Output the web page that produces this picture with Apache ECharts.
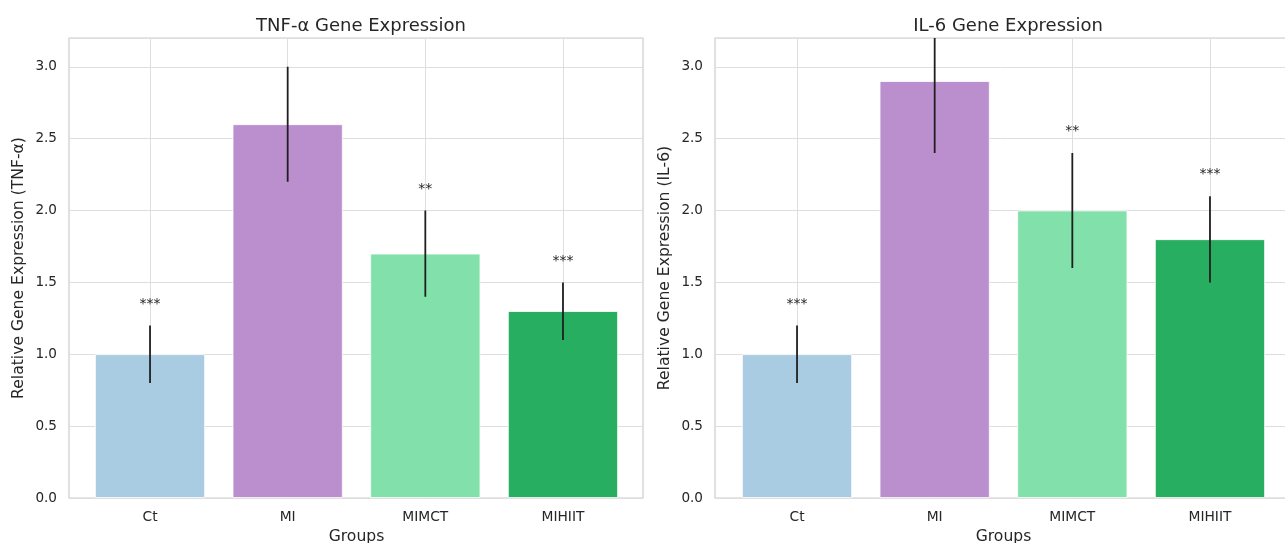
<!DOCTYPE html>
<html>
<head>
<meta charset="utf-8">
<script src="https://cdn.jsdelivr.net/npm/echarts@6/dist/echarts.min.js"></script>
<style>
  html, body { margin: 0; padding: 0; background: #ffffff; }
  #chart { width: 1285px; height: 543px; }
</style>
</head>
<body>
<div id="chart"></div>
<script>
// ---- data ----
const categories = ['Ct', 'MI', 'MIMCT', 'MIHIIT'];
const tnfMean = [1.0, 2.6, 1.7, 1.3];
const tnfErr  = [0.2, 0.4, 0.3, 0.2];
const tnfSig  = ['***', '', '**', '***'];
const il6Mean = [1.0, 2.9, 2.0, 1.8];
const il6Err  = [0.2, 0.5, 0.4, 0.3];
const il6Sig  = ['***', '', '**', '***'];
const barColors = ['#a9cce3', '#bb8fce', '#82e0aa', '#27ae60'];
const titles = ['TNF-α Gene Expression', 'IL-6 Gene Expression'];
const yNames = ['Relative Gene Expression (TNF-α)', 'Relative Gene Expression (IL-6)'];
const xName = 'Groups';

// ---- style / layout ----
const FONT = 'DejaVu Sans';
const TXT = '#262626';
const GRIDC = '#dedede';
const SIG_OFFSET = 0.1;
const Y_MIN = 0, Y_MAX = 3.2, Y_INT = 0.5;
const panels = [
  { outerLeft: 69,  outerWidth: 574, innerLeft: 81.2,  innerWidth: 550.6, titleX: 356 },
  { outerLeft: 715, outerWidth: 576, innerLeft: 728.2, innerWidth: 550.6, titleX: 1003 }
];
const TOP = 38, HEIGHT = 460;

const chart = echarts.init(document.getElementById('chart'), null, { renderer: 'canvas' });

const grid = [], xAxis = [], yAxis = [], series = [], title = [];
const datasets = [
  { mean: tnfMean, err: tnfErr, sig: tnfSig },
  { mean: il6Mean, err: il6Err, sig: il6Sig }
];

datasets.forEach((d, p) => {
  const pn = panels[p];
  const outerIdx = grid.length;
  grid.push({ left: pn.outerLeft, top: TOP, width: pn.outerWidth, height: HEIGHT,
              containLabel: false, outerBoundsMode: 'none',
              show: true, borderColor: '#cccccc', borderWidth: 1.2, backgroundColor: 'transparent' });
  const innerIdx = grid.length;
  grid.push({ left: pn.innerLeft, top: TOP, width: pn.innerWidth, height: HEIGHT,
              containLabel: false, outerBoundsMode: 'none', show: false });

  title.push({ text: titles[p], left: pn.titleX, top: 12, textAlign: 'center',
               textStyle: { fontFamily: FONT, fontSize: 18, fontWeight: 'normal', color: TXT } });

  // outer axes (frame, y ticks, horizontal grid)
  xAxis.push({ type: 'value', gridIndex: outerIdx, min: 0, max: 1, show: false });
  yAxis.push({
    type: 'value', gridIndex: outerIdx, min: Y_MIN, max: Y_MAX, interval: Y_INT,
    axisLine: { show: false }, axisTick: { show: false },
    axisLabel: { formatter: v => v.toFixed(1), showMaxLabel: false, color: TXT,
                 fontFamily: FONT, fontSize: 13.6, margin: 12 },
    splitLine: { show: true, lineStyle: { color: GRIDC, width: 1 } },
    name: yNames[p], nameLocation: 'middle', nameGap: 42,
    nameTextStyle: { fontFamily: FONT, fontSize: 15.6, color: TXT }
  });

  // inner axes (bars)
  const ixi = xAxis.length;
  xAxis.push({
    type: 'category', gridIndex: innerIdx, data: categories,
    axisLine: { show: false }, axisTick: { show: false }, splitLine: { show: false },
    axisLabel: { color: TXT, fontFamily: FONT, fontSize: 13.8, margin: 12 },
    name: xName, nameLocation: 'middle', nameGap: 30,
    nameTextStyle: { fontFamily: FONT, fontSize: 15.6, color: TXT }
  });
  const iyi = yAxis.length;
  yAxis.push({ type: 'value', gridIndex: innerIdx, min: Y_MIN, max: Y_MAX, show: false });

  series.push({
    type: 'bar', xAxisIndex: ixi, yAxisIndex: iyi, z: 2,
    barWidth: '80%',
    data: d.mean.map((m, i) => ({ value: m, itemStyle: { color: barColors[i] } })),
    itemStyle: { borderColor: '#ffffff', borderWidth: 0.8 },
    markLine: {
      z: 1, silent: true, symbol: ['none', 'none'], label: { show: false },
      lineStyle: { color: GRIDC, width: 1, type: 'solid' },
      emphasis: { disabled: true },
      data: categories.map(c => ({ xAxis: c }))
    }
  });

  series.push({
    type: 'custom', xAxisIndex: ixi, yAxisIndex: iyi, z: 3, clip: true,
    data: d.mean.map((m, i) => [i, m - d.err[i], m + d.err[i]]),
    renderItem: (params, api) => {
      const x = api.value(0);
      const lo = api.coord([x, api.value(1)]);
      const hi = api.coord([x, api.value(2)]);
      const top = Math.max(hi[1], params.coordSys.y);
      return { type: 'line', shape: { x1: lo[0], y1: lo[1], x2: hi[0], y2: top },
               style: { stroke: '#1f1f1f', lineWidth: 1.8 } };
    }
  });

  series.push({
    type: 'custom', xAxisIndex: ixi, yAxisIndex: iyi, z: 4,
    data: d.mean.map((m, i) => [i, m + d.err[i]]),
    renderItem: (params, api) => {
      const pos = api.coord([api.value(0), api.value(1) + SIG_OFFSET]);
      return { type: 'text', x: pos[0], y: pos[1],
               style: { text: d.sig[params.dataIndex], fill: TXT,
                        font: '14px "DejaVu Sans"', align: 'center', verticalAlign: 'bottom',
                        textAlign: 'center', textVerticalAlign: 'bottom' } };
    }
  });
});

chart.setOption({
  animation: false,
  backgroundColor: '#ffffff',
  textStyle: { fontFamily: FONT },
  title, grid, xAxis, yAxis, series
});
</script>
</body>
</html>
